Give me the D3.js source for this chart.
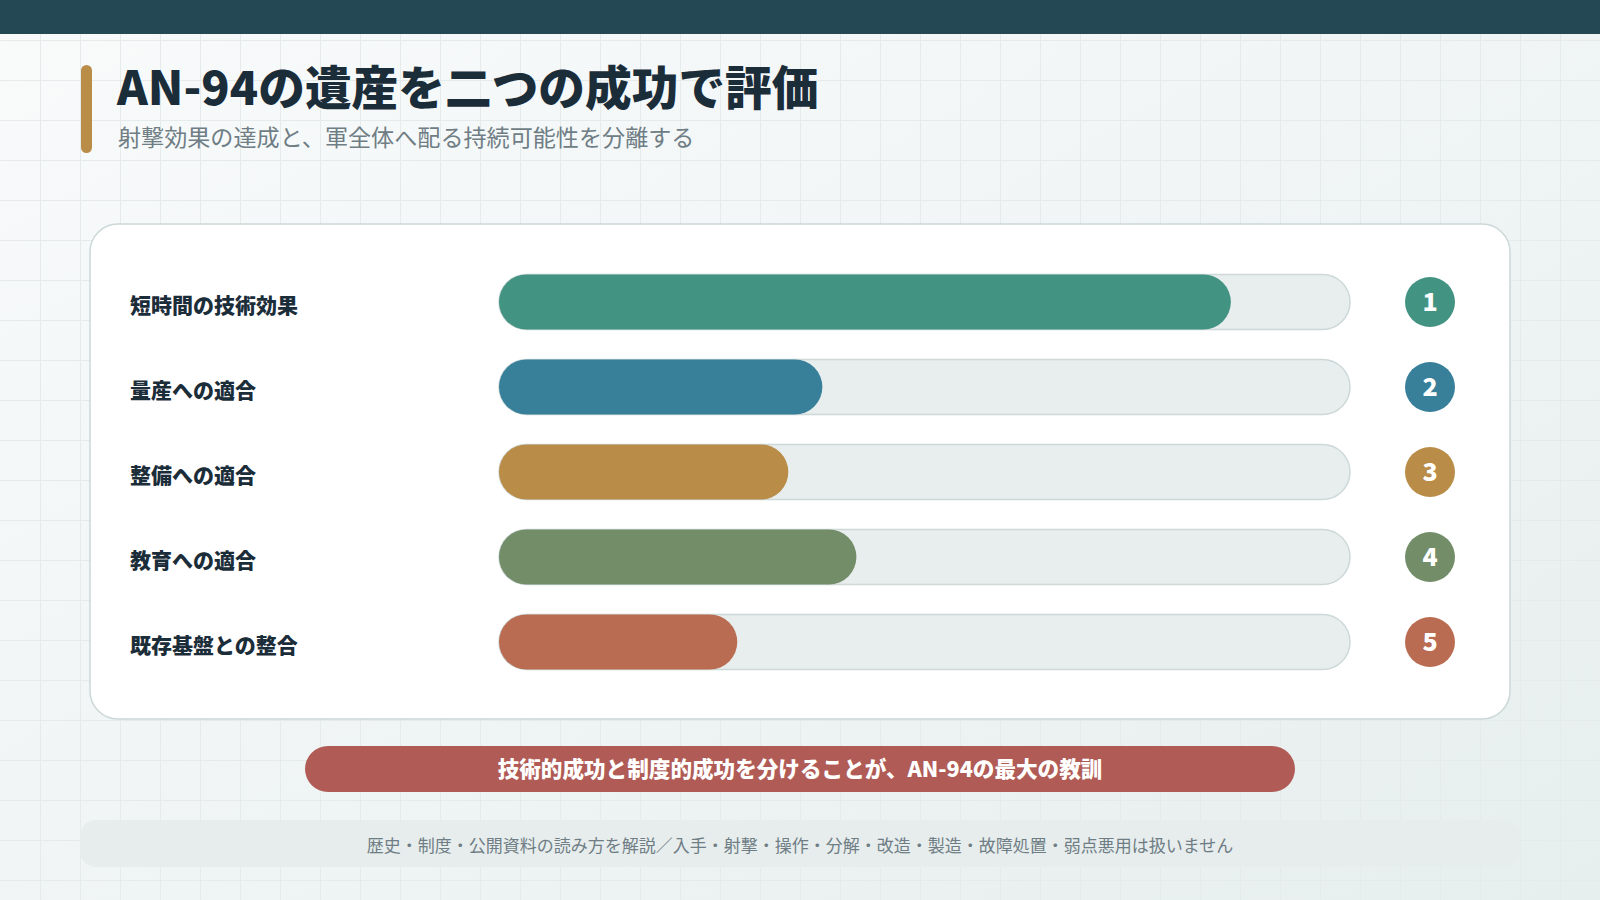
<!DOCTYPE html>
<html><head><meta charset="utf-8">
<script src="https://cdn.jsdelivr.net/npm/d3@7"></script>
<style>html,body{margin:0;padding:0;background:#f2f6f6;overflow:hidden}svg{display:block}</style>
</head><body>
<svg id="c" width="1600" height="900"></svg>
<script>
const categories = ["短時間の技術効果","量産への適合","整備への適合","教育への適合","既存基盤との整合"];
const values = [86, 38, 34, 42, 28];
const ranks = ["1","2","3","4","5"];
const colors = ["#439383","#387f9a","#b98c47","#738d69","#b96c51"];
const titleText = "AN-94の遺産を二つの成功で評価";
const subtitleText = "射撃効果の達成と、軍全体へ配る持続可能性を分離する";
const calloutText = "技術的成功と制度的成功を分けることが、AN-94の最大の教訓";
const footerText = "歴史・制度・公開資料の読み方を解説／入手・射撃・操作・分解・改造・製造・故障処置・弱点悪用は扱いません";

const svg = d3.select("#c");
const FONT = "'Noto Sans CJK JP','Noto Sans',sans-serif";
const defs = svg.append("defs");
const bg = defs.append("linearGradient").attr("id","bg").attr("x1","0").attr("y1","0").attr("x2","1").attr("y2","1");
bg.append("stop").attr("offset","0").attr("stop-color","#f9fbfb");
bg.append("stop").attr("offset","1").attr("stop-color","#e7eeee");
svg.append("rect").attr("width",1600).attr("height",900).attr("fill","url(#bg)");
const grid = svg.append("g").attr("stroke","#e5ebeb").attr("stroke-width",1);
d3.range(40,1600,40).forEach(x=>grid.append("line").attr("x1",x+0.5).attr("x2",x+0.5).attr("y1",0).attr("y2",900));
d3.range(40,900,40).forEach(y=>grid.append("line").attr("y1",y+0.5).attr("y2",y+0.5).attr("x1",0).attr("x2",1600));

svg.append("rect").attr("width",1600).attr("height",34).attr("fill","#254855");
svg.append("rect").attr("x",81).attr("y",65).attr("width",11).attr("height",88).attr("rx",5.5).attr("fill","#b98c47");
svg.append("text").attr("x",117).attr("y",105).attr("font-family",FONT).attr("font-weight",900)
  .attr("font-size",46.7).attr("fill","#1c2d3a").text(titleText);
svg.append("text").attr("x",118).attr("y",146).attr("font-family",FONT).attr("font-weight",400)
  .attr("font-size",23.1).attr("fill","#6f7d85").text(subtitleText);

svg.append("rect").attr("x",90).attr("y",224).attr("width",1420).attr("height",495).attr("rx",28)
  .attr("fill","#ffffff").attr("stroke","#ccd8d8").attr("stroke-width",1.5);

const x = d3.scaleLinear().domain([0,100]).range([499,1350]);
const y = d3.scaleBand().domain(categories).range([274.5,669.5]).paddingInner(30/85).paddingOuter(0);
const h = y.bandwidth();

const rows = svg.append("g").selectAll("g").data(categories).join("g");
rows.append("text").attr("x",130).attr("y",d=>y(d)+h/2+3).attr("dy","0.36em")
  .attr("font-family",FONT).attr("font-weight",900).attr("font-size",21).attr("fill","#1c2d3a").text(d=>d);
rows.append("rect").attr("x",x(0)).attr("y",d=>y(d)).attr("width",x(100)-x(0)).attr("height",h)
  .attr("rx",h/2).attr("fill","#e8eeee").attr("stroke","#cdd8d8").attr("stroke-width",1.5);
rows.append("rect").attr("x",x(0)).attr("y",d=>y(d)).attr("width",(d,i)=>x(values[i])-x(0)).attr("height",h)
  .attr("rx",h/2).attr("fill",(d,i)=>colors[i]);
rows.append("circle").attr("cx",1430).attr("cy",d=>y(d)+h/2).attr("r",25).attr("fill",(d,i)=>colors[i]);
rows.append("text").attr("x",1430).attr("y",d=>y(d)+h/2).attr("dy","0.36em").attr("text-anchor","middle")
  .attr("font-family",FONT).attr("font-weight",900).attr("font-size",25).attr("fill","#ffffff").text((d,i)=>ranks[i]);

svg.append("rect").attr("x",305).attr("y",746).attr("width",990).attr("height",46).attr("rx",23).attr("fill","#b05b55");
svg.append("text").attr("x",800).attr("y",769).attr("dy","0.36em").attr("text-anchor","middle")
  .attr("font-family",FONT).attr("font-weight",900).attr("font-size",21.6).attr("fill","#ffffff").text(calloutText);

svg.append("rect").attr("x",80).attr("y",820).attr("width",1440).attr("height",47).attr("rx",16).attr("fill","#e7eded");
svg.append("text").attr("x",800).attr("y",846).attr("dy","0.36em").attr("text-anchor","middle")
  .attr("font-family",FONT).attr("font-weight",400).attr("font-size",17).attr("fill","#6f7d85").text(footerText);
</script>
</body></html>
